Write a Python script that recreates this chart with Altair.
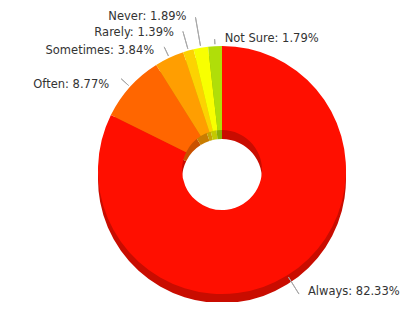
import math
import altair as alt
import pandas as pd

# ---- data ----
categories = ["Always", "Often", "Sometimes", "Rarely", "Never", "Not Sure"]
values = [82.33, 8.77, 3.84, 1.39, 1.89, 1.79]
top_colors = ["#FF0F00", "#FF6600", "#FF9E01", "#FCD202", "#F8FF01", "#B0DE09"]
side_colors = ["#C90C00", "#C95100", "#C97D01", "#C7A602", "#C4C901", "#8BAF07"]

df = pd.DataFrame({
    "category": categories,
    "value": values,
    "order": list(range(len(categories))),
    "label": [f"{c}: {v:.2f}%" for c, v in zip(categories, values)],
})

total = sum(values)

# ---- layout (chart coordinates; page = chart + 8px margin) ----
CX, CY = 214, 162
R_OUT, R_IN, DEPTH = 124, 40, 9
LINE_START = R_OUT + 2
label_layout = {
    "Always":    dict(r=146, dx=9,   dy=-2, align="left"),
    "Often":     dict(r=136, dx=-12, dy=6,  align="right"),
    "Sometimes": dict(r=136, dx=-10, dy=4,  align="right"),
    "Rarely":    dict(r=144, dx=-9,  dy=2,  align="right"),
    "Never":     dict(r=155, dx=-9,  dy=0,  align="right"),
    "Not Sure":  dict(r=131, dx=10,  dy=0,  align="left"),
}

theta_scale = alt.Scale(domain=[0, total], range=[0, 2 * math.pi])

base = alt.Chart(df).transform_window(
    cum="sum(value)", sort=[alt.SortField("order")], frame=[None, 0]
).transform_calculate(mid="datum.cum - datum.value / 2")

def donut(colors, yoff):
    return base.mark_arc(outerRadius=R_OUT, innerRadius=R_IN).encode(
        theta=alt.Theta("value:Q", stack=True, scale=theta_scale),
        order=alt.Order("order:Q"),
        color=alt.Color("category:N",
                        scale=alt.Scale(domain=categories, range=colors),
                        legend=None),
        x=alt.value(CX),
        y=alt.value(CY + yoff),
    )

side = donut(side_colors, DEPTH)
top = donut(top_colors, 0)

layers = [side, top]
for cat in categories:
    lay = label_layout[cat]
    sub = base.transform_filter(alt.datum.category == cat)
    conn = sub.mark_arc(radius=lay["r"], radius2=LINE_START, filled=False,
                        color="#A8A8A8", strokeWidth=1).encode(
        theta=alt.Theta("mid:Q", scale=theta_scale, stack=None),
        theta2=alt.Theta2("mid:Q"),
        x=alt.value(CX),
        y=alt.value(CY),
    )
    txt = sub.mark_text(radius=lay["r"], dx=lay["dx"], dy=lay["dy"],
                        align=lay["align"], baseline="middle",
                        font="DejaVu Sans", fontSize=11.5, color="#333333").encode(
        theta=alt.Theta("mid:Q", scale=theta_scale, stack=None),
        text="label:N",
        x=alt.value(CX),
        y=alt.value(CY),
    )
    layers += [conn, txt]

chart = alt.layer(*layers).resolve_scale(color="independent").properties(
    width=403, height=294, autosize="none", padding=0
).configure_view(stroke=None)

chart.save("out.html", embed_options={"renderer": "svg", "actions": False})
